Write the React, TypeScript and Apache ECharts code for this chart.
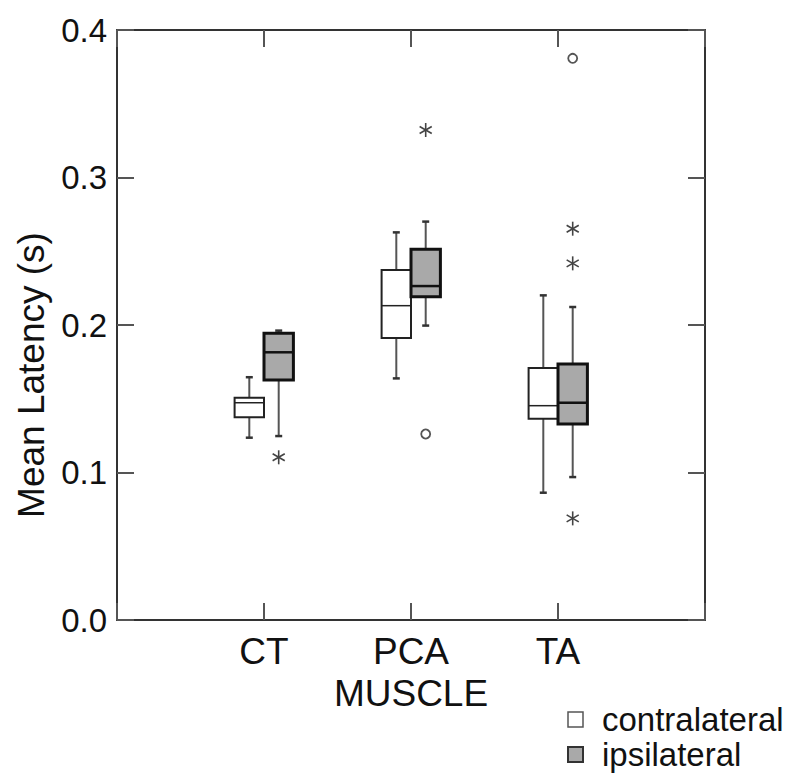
import React, { useEffect, useRef } from "react";
import * as echarts from "echarts";

// ---- data ----
const categories = ["CT", "PCA", "TA"];
// [lower whisker, Q1, median, Q3, upper whisker]
const contralateral = [
  [0.1236, 0.1374, 0.1473, 0.1507, 0.1646],
  [0.1638, 0.1912, 0.2131, 0.2373, 0.2628],
  [0.0863, 0.1365, 0.1453, 0.1708, 0.2201],
];
const ipsilateral = [
  [0.1247, 0.1627, 0.1815, 0.1944, 0.1962],
  [0.1996, 0.2192, 0.2264, 0.2513, 0.2701],
  [0.0969, 0.1329, 0.1473, 0.1736, 0.2122],
];
// [category index, value]
const ipsiOutliersStar = [
  [0, 0.1103],
  [1, 0.3322],
  [2, 0.2653],
  [2, 0.2418],
  [2, 0.0689],
];
const ipsiOutliersCircle = [
  [1, 0.1261],
  [2, 0.3808],
];
const yTicks = [0, 0.1, 0.2, 0.3, 0.4];

const FONT = "'Liberation Sans', Arial, Helvetica, sans-serif";
const HALF = 0.1; // half box width in category units

function boxRenderer(side: number, fill: string, stroke: string, lw: number) {
  return (params: any, api: any) => {
    const x = api.value(0) + side * HALF;
    const lo = api.coord([x, api.value(1)]);
    const q1 = api.coord([x, api.value(2)]);
    const md = api.coord([x, api.value(3)]);
    const q3 = api.coord([x, api.value(4)]);
    const hi = api.coord([x, api.value(5)]);
    const cx = lo[0];
    const hw = api.size([HALF, 0])[0];
    const cap = 3.5;
    const wStyle = { stroke: "#555", lineWidth: 2 };
    return {
      type: "group",
      children: [
        { type: "line", shape: { x1: cx, y1: lo[1], x2: cx, y2: q1[1] }, style: wStyle },
        { type: "line", shape: { x1: cx, y1: q3[1], x2: cx, y2: hi[1] }, style: wStyle },
        { type: "line", shape: { x1: cx - cap, y1: lo[1], x2: cx + cap, y2: lo[1] }, style: { stroke: "#333", lineWidth: 2.5 } },
        { type: "line", shape: { x1: cx - cap, y1: hi[1], x2: cx + cap, y2: hi[1] }, style: { stroke: "#333", lineWidth: 2.5 } },
        {
          type: "rect",
          shape: { x: cx - hw, y: q3[1], width: 2 * hw, height: q1[1] - q3[1] },
          style: { fill, stroke, lineWidth: lw },
        },
        { type: "line", shape: { x1: cx - hw, y1: md[1], x2: cx + hw, y2: md[1] }, style: { stroke, lineWidth: lw - 0.5 } },
      ],
    };
  };
}

function starRenderer(params: any, api: any) {
  const p = api.coord([api.value(0) + HALF, api.value(1)]);
  const r = 7;
  const dx = r * Math.cos(Math.PI / 6);
  const dy = r * Math.sin(Math.PI / 6);
  const st = { stroke: "#444", lineWidth: 1.6 };
  return {
    type: "group",
    children: [
      { type: "line", shape: { x1: p[0], y1: p[1] - r, x2: p[0], y2: p[1] + r }, style: st },
      { type: "line", shape: { x1: p[0] - dx, y1: p[1] - dy, x2: p[0] + dx, y2: p[1] + dy }, style: st },
      { type: "line", shape: { x1: p[0] - dx, y1: p[1] + dy, x2: p[0] + dx, y2: p[1] - dy }, style: st },
    ],
  };
}

function circleRenderer(params: any, api: any) {
  const p = api.coord([api.value(0) + HALF, api.value(1)]);
  return {
    type: "circle",
    shape: { cx: p[0], cy: p[1], r: 4.5 },
    style: { fill: "none", stroke: "#555", lineWidth: 1.8 },
  };
}

const axisLine = { show: true, onZero: false, lineStyle: { color: "#333", width: 2 } };
const axisTick = { show: true, inside: true, length: 17, lineStyle: { color: "#555", width: 2 } };

export default function App() {
  const ref = useRef<HTMLDivElement>(null);
  useEffect(() => {
    const chart = echarts.init(ref.current!, null, { renderer: "svg" });
    const xBase = { type: "value", min: 0, max: categories.length + 1, interval: 1 };
    chart.setOption({
      animation: false,
      backgroundColor: "#fff",
      grid: { left: 117, right: 95, top: 30, bottom: 160 },
      legend: {
        orient: "vertical",
        left: 562,
        top: 698,
        itemWidth: 15,
        itemHeight: 15,
        itemGap: 2,
        icon: "rect",
        selectedMode: false,
        textStyle: { fontFamily: FONT, fontSize: 33, color: "#111", lineHeight: 32, padding: [0, 0, 0, 14] },
        data: [
          { name: "contralateral", itemStyle: { color: "#fff", borderColor: "#555", borderWidth: 1.5 } },
          { name: "ipsilateral", itemStyle: { color: "#a9a9a9", borderColor: "#333", borderWidth: 2 } },
        ],
      },
      xAxis: [
        {
          ...xBase,
          position: "bottom",
          axisLine,
          axisTick,
          splitLine: { show: false },
          axisLabel: {
            show: true,
            margin: 13,
            fontFamily: FONT,
            fontSize: 37,
            color: "#111",
            formatter: (v: number) => categories[v - 1] ?? "",
          },
          name: "MUSCLE",
          nameLocation: "middle",
          nameGap: 42,
          nameTextStyle: { fontFamily: FONT, fontSize: 37, color: "#111" },
        },
        {
          ...xBase,
          position: "top",
          axisLine,
          axisTick,
          splitLine: { show: false },
          axisLabel: { show: false },
        },
      ],
      yAxis: [
        {
          type: "value",
          min: yTicks[0],
          max: yTicks[yTicks.length - 1],
          interval: 0.1,
          position: "left",
          axisLine,
          axisTick,
          splitLine: { show: false },
          axisLabel: {
            margin: 10,
            fontFamily: FONT,
            fontSize: 33,
            color: "#111",
            formatter: (v: number) => v.toFixed(1),
          },
          name: "Mean Latency (s)",
          nameLocation: "middle",
          nameGap: 64,
          nameTextStyle: { fontFamily: FONT, fontSize: 37, color: "#111", padding: [0, 100, 0, 0] },
        },
        {
          type: "value",
          min: yTicks[0],
          max: yTicks[yTicks.length - 1],
          interval: 0.1,
          position: "right",
          axisLine,
          axisTick,
          splitLine: { show: false },
          axisLabel: { show: false },
        },
      ],
      series: [
        {
          name: "contralateral",
          type: "custom",
          xAxisIndex: 0,
          yAxisIndex: 0,
          itemStyle: { color: "#fff", borderColor: "#555" },
          renderItem: boxRenderer(-1, "#ffffff", "#222", 2),
          encode: { x: 0, y: [1, 2, 3, 4, 5] },
          data: contralateral.map((d, i) => [i + 1, ...d]),
        },
        {
          name: "ipsilateral",
          type: "custom",
          xAxisIndex: 0,
          yAxisIndex: 0,
          itemStyle: { color: "#a9a9a9", borderColor: "#333" },
          renderItem: boxRenderer(1, "#a9a9a9", "#111", 3),
          encode: { x: 0, y: [1, 2, 3, 4, 5] },
          data: ipsilateral.map((d, i) => [i + 1, ...d]),
        },
        {
          type: "custom",
          xAxisIndex: 0,
          yAxisIndex: 0,
          renderItem: starRenderer,
          encode: { x: 0, y: 1 },
          data: ipsiOutliersStar.map(([c, v]) => [c + 1, v]),
        },
        {
          type: "custom",
          xAxisIndex: 0,
          yAxisIndex: 0,
          renderItem: circleRenderer,
          encode: { x: 0, y: 1 },
          data: ipsiOutliersCircle.map(([c, v]) => [c + 1, v]),
        },
      ],
    });
    return () => chart.dispose();
  }, []);
  return (
    <div
      ref={ref}
      style={{ position: "absolute", left: 0, top: 0, width: 800, height: 780, background: "#fff" }}
    />
  );
}
